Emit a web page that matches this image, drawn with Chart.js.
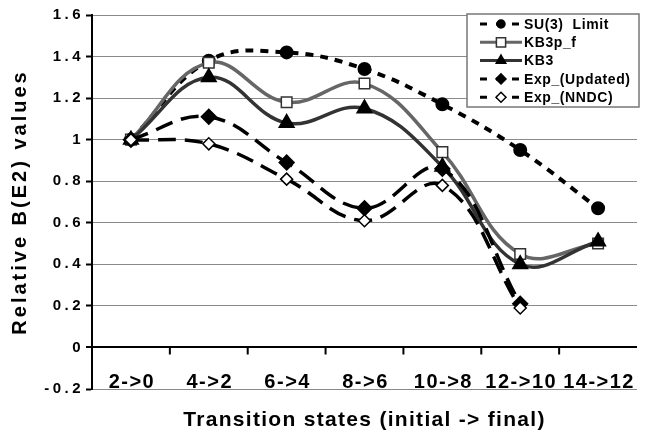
<!DOCTYPE html>
<html>
<head>
<meta charset="utf-8">
<script src="https://cdn.jsdelivr.net/npm/chart.js@4/dist/chart.umd.min.js"></script>
<style>
html,body{margin:0;padding:0;background:#fff;}
#wrap{width:647px;height:433px;}
</style>
</head>
<body>
<div id="wrap"><canvas id="bChart"></canvas></div>
<script>
// data
const categories = ['2->0', '4->2', '6->4', '8->6', '10->8', '12->10', '14->12'];
const su3Limit = [1, 1.38, 1.42, 1.34, 1.17, 0.95, 0.67];
const kb3pF = [1, 1.37, 1.18, 1.27, 0.94, 0.45, 0.50];
const kb3 = [1, 1.30, 1.08, 1.15, 0.87, 0.40, 0.51];
const expUpdated = [1, 1.11, 0.89, 0.67, 0.86, 0.21, null];
const expNndc = [1, 0.98, 0.81, 0.61, 0.78, 0.19, null];

const FONT = 'Liberation Sans, Arial, sans-serif';

// letter spacing on axis labels/titles (the original text is stretched wide)
const spacing = {
  id: 'spacing',
  beforeDraw(chart) {
    [['x', '1.5px', '1.3px'], ['y', '3.5px', '3px']].forEach(([id, lab, tit]) => {
      const s = chart.scales[id];
      if (s._spaced) return;
      s._spaced = true;
      const dl = s.drawLabels, dt = s.drawTitle;
      s.drawLabels = function (a) { const c = this.ctx; c.save(); c.letterSpacing = lab; dl.call(this, a); c.restore(); };
      s.drawTitle = function (a) { const c = this.ctx; c.save(); c.letterSpacing = tit; dt.call(this, a); c.restore(); };
    });
  }
};

// category labels sit inside the plot, above the bottom line; tick marks hang off the zero line
const catAxis = {
  id: 'catAxis',
  afterDatasetsDraw(chart) {
    const x = chart.scales.x, y = chart.scales.y, ctx = chart.ctx;
    const y0 = y.getPixelForValue(0);
    ctx.save();
    ctx.strokeStyle = '#000';
    ctx.lineWidth = 2;
    ctx.beginPath();
    for (let i = 0; i < categories.length - 1; i++) {
      const px = (x.getPixelForTick(i) + x.getPixelForTick(i + 1)) / 2;
      ctx.moveTo(px, y0);
      ctx.lineTo(px, y0 + 7);
    }
    ctx.stroke();
    ctx.fillStyle = '#000';
    ctx.font = 'bold 20px ' + FONT;
    ctx.letterSpacing = '1.5px';
    ctx.textAlign = 'center';
    ctx.textBaseline = 'alphabetic';
    const yb = y.getPixelForValue(-0.2) - 1;
    categories.forEach((c, i) => ctx.fillText(c, x.getPixelForTick(i) + 1, yb));
    ctx.restore();
  }
};

// legend box with line + marker samples
const boxLegend = {
  id: 'boxLegend',
  afterDraw(chart) {
    const ctx = chart.ctx, area = chart.chartArea;
    const left = area.right - 170, top = area.top - 1, w = 172, h = 93;
    ctx.save();
    ctx.fillStyle = '#fff';
    ctx.fillRect(left, top, w, h);
    ctx.strokeStyle = '#777';
    ctx.lineWidth = 1.5;
    ctx.strokeRect(left, top, w, h);
    ctx.font = 'bold 14px ' + FONT;
    ctx.textBaseline = 'middle';
    ctx.letterSpacing = '0.6px';
    chart.data.datasets.forEach((ds, i) => {
      const cy = top + 10 + i * 18.3;
      const x1 = left + 13, x2 = left + 55, xm = (x1 + x2) / 2;
      ctx.strokeStyle = ds.borderColor;
      ctx.lineWidth = 3;
      ctx.setLineDash(ds.borderDash ? [7, 9] : []);
      ctx.beginPath();
      ctx.moveTo(x1, cy);
      ctx.lineTo(x2, cy);
      ctx.stroke();
      ctx.setLineDash([]);
      ctx.fillStyle = ds.pointBackgroundColor;
      ctx.strokeStyle = ds.pointBorderColor;
      ctx.lineWidth = 1.5;
      Chart.helpers.drawPoint(ctx, {pointStyle: ds.pointStyle, radius: ds.pointRadius - 1, rotation: 0, borderWidth: 1.5}, xm, cy);
      ctx.fillStyle = '#000';
      ctx.fillText(ds.label, x2 + 2, cy + 1);
    });
    ctx.restore();
  }
};

new Chart(document.getElementById('bChart'), {
  type: 'line',
  data: {
    labels: categories,
    datasets: [
      {label: 'SU(3)  Limit', data: su3Limit, order: 5, borderColor: '#000', borderWidth: 4, borderDash: [8, 7],
       pointStyle: 'circle', pointRadius: 5, pointBackgroundColor: '#000', pointBorderColor: '#000'},
      {label: 'KB3p_f', data: kb3pF, order: 4, borderColor: '#666', borderWidth: 3.5,
       pointStyle: 'rect', pointRadius: 7.5, pointBackgroundColor: '#fff', pointBorderColor: '#333', pointBorderWidth: 1.5},
      {label: 'KB3', data: kb3, order: 3, borderColor: '#333', borderWidth: 3.5,
       pointStyle: 'triangle', pointRadius: 6.5, pointBackgroundColor: '#000', pointBorderColor: '#000'},
      {label: 'Exp_(Updated)', data: expUpdated, order: 2, borderColor: '#000', borderWidth: 3.5, borderDash: [18, 9],
       pointStyle: 'rectRot', pointRadius: 6, pointBackgroundColor: '#000', pointBorderColor: '#000'},
      {label: 'Exp_(NNDC)', data: expNndc, order: 1, borderColor: '#000', borderWidth: 3.5, borderDash: [18, 9],
       pointStyle: 'rectRot', pointRadius: 6, pointBackgroundColor: '#fff', pointBorderColor: '#000', pointBorderWidth: 1.5}
    ]
  },
  options: {
    responsive: true,
    maintainAspectRatio: false,
    animation: false,
    layout: {padding: {top: 15, right: 0, bottom: 0, left: 0}},
    elements: {line: {tension: 0.4, cubicInterpolationMode: 'default'}},
    plugins: {legend: {display: false}, tooltip: {enabled: false}},
    scales: {
      x: {
        offset: true,
        grid: {display: false, drawTicks: false},
        border: {display: false},
        ticks: {display: false},
        title: {display: true, text: 'Transition states (initial -> final)', color: '#000',
                font: {family: FONT, size: 21, weight: 'bold'}, padding: {top: 0, bottom: 0}},
        afterFit(s) { s.height = 44; }
      },
      y: {
        min: -0.2, max: 1.6,
        ticks: {stepSize: 0.2, color: '#000', font: {family: FONT, size: 15, weight: 'bold'}, padding: 2,
                callback: v => String(Number(v.toFixed(1)))},
        grid: {
          color: c => (c.tick && Math.abs(c.tick.value) < 1e-9) ? '#000' : '#8a8a8a',
          lineWidth: c => (c.tick && Math.abs(c.tick.value) < 1e-9) ? 2 : 1,
          tickColor: '#000', tickLength: 6, tickWidth: 2
        },
        border: {display: true, color: '#000', width: 2},
        title: {display: true, text: 'Relative B(E2) values', color: '#000',
                font: {family: FONT, size: 20, weight: 'bold'}, padding: {top: 8, bottom: 0}},
        afterFit(s) { s.width = 92; }
      }
    }
  },
  plugins: [spacing, catAxis, boxLegend]
});
</script>
</body>
</html>
